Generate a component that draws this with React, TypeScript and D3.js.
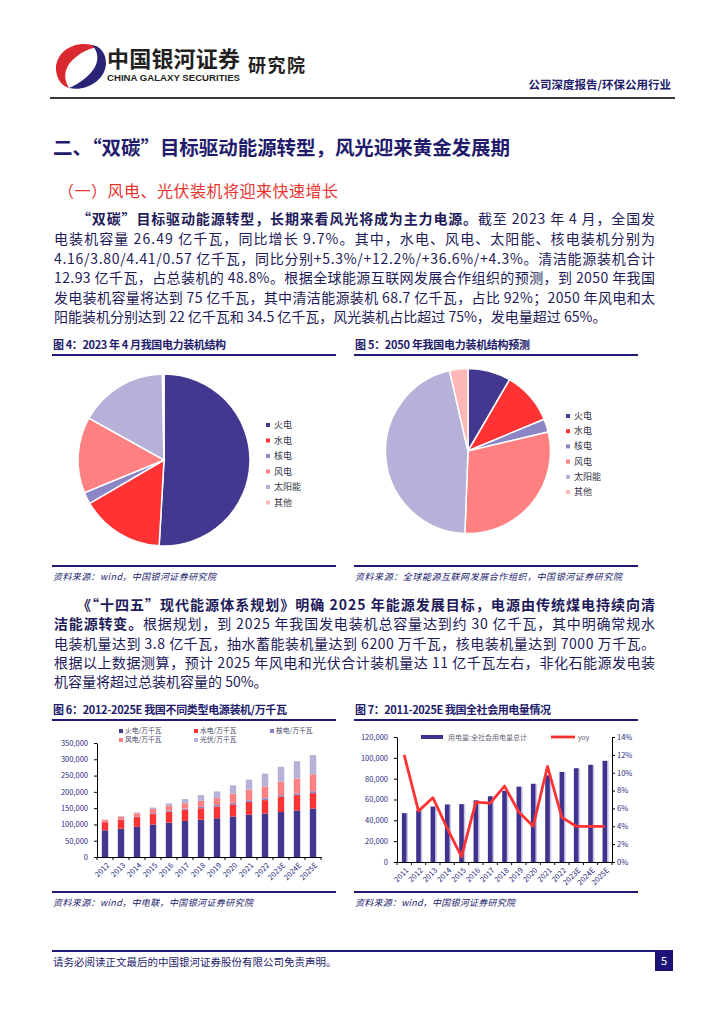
import { useRef, useEffect } from 'react';
import * as d3 from 'd3';

const FONT = "'Noto Sans CJK SC', 'Noto Sans', sans-serif";
const NAVY = '#221b6c';
const TEXT = '#1e1a5a';
const AXIS_TEXT = '#2b2a80';

// Fig 4 / Fig 5 pies
const pieNames = ['火电', '水电', '核电', '风电', '太阳能', '其他'];
const pieColors = ['#43388f', '#ff3333', '#8c86c6', '#ff8080', '#b5b1d8', '#ffb6b6'];
const share2023 = [50.9, 15.7, 2.2, 14.3, 16.6, 0.3];
const share2050 = [8.4, 10.3, 2.6, 29.3, 45.8, 3.6];

// Fig 6 installed capacity, 万千瓦
const capYears = ['2012', '2013', '2014', '2015', '2016', '2017', '2018', '2019', '2020', '2021', '2022', '2023E', '2024E', '2025E'];
const capThermal = [82000, 86800, 92400, 99800, 105400, 110600, 114400, 119000, 124500, 129700, 133200, 138000, 143000, 149000];
const capHydro = [24900, 28000, 30200, 32000, 33200, 34400, 35300, 35800, 37000, 39100, 41400, 48000, 47000, 47000];
const capNuclear = [1260, 1470, 2000, 2700, 3400, 3600, 4500, 4900, 5000, 5300, 5600, 4000, 5000, 6000];
const capWind = [6100, 7700, 9600, 13100, 14800, 16400, 18400, 21000, 28200, 32800, 36500, 41000, 46000, 52000];
const capSolar = [340, 1600, 2500, 4200, 7700, 13000, 17500, 20500, 25300, 30700, 39300, 46000, 53000, 59000];
const capNames = ['火电/万千瓦', '水电/万千瓦', '核电/万千瓦', '风电/万千瓦', '光伏/万千瓦'];
const capColors = ['#43388f', '#ff3333', '#8c86c6', '#ff8080', '#b5b1d8'];
const capTicks = [0, 50000, 100000, 150000, 200000, 250000, 300000, 350000];

// Fig 7 electricity consumption
const useYears = ['2011', '2012', '2013', '2014', '2015', '2016', '2017', '2018', '2019', '2020', '2021', '2022', '2023E', '2024E', '2025E'];
const useTotal = [46900, 49600, 53200, 55200, 55500, 59200, 63100, 68400, 72300, 75100, 83100, 86400, 90000, 93300, 97100];
const useYoy = [12.0, 5.7, 7.2, 3.8, 0.6, 6.7, 6.6, 8.5, 5.6, 4.0, 10.7, 5.0, 4.0, 4.0, 4.0];
const useTicks = [0, 20000, 40000, 60000, 80000, 100000, 120000];
const yoyTicks = [0, 2, 4, 6, 8, 10, 12, 14];

type Sel = d3.Selection<any, unknown, null, undefined>;
type Part = [string, boolean?];

function textLine(g: Sel, x: number, y: number, parts: Part[], opt: { size: number; fill?: string; width?: number; anchor?: string; italic?: boolean; family?: string }) {
  const t = g.append('text')
    .attr('x', x)
    .attr('y', y)
    .attr('font-size', opt.size)
    .attr('font-family', opt.family ?? FONT)
    .attr('fill', opt.fill ?? TEXT)
    .attr('text-anchor', opt.anchor ?? 'start');
  if (opt.italic) t.attr('font-style', 'italic');
  parts.forEach(([s, b]) => {
    t.append('tspan').attr('font-weight', b ? 700 : 400).text(s);
  });
  if (opt.width) t.attr('textLength', opt.width).attr('lengthAdjust', 'spacing');
  return t;
}

function drawHeader(svg: Sel) {
  const g = svg.append('g');
  // logo
  g.append('path')
    .attr('d', 'M98,47 C78,38 55,50 56,70 C57,80 62,86 69,88 C62,77 65,65 76,57 C83,51 91,48 98,47 Z')
    .attr('fill', '#d9282f');
  g.append('path')
    .attr('d', 'M69,88 C86,92 106,80 106,63 C106,53 100,46 92,45 C99,52 99,62 93,70 C87,78 78,84 69,88 Z')
    .attr('fill', '#2b2578');
  textLine(g, 107, 67, [['中国银河证券', true]], { size: 22, fill: '#231f20', width: 133 });
  g.append('text')
    .attr('x', 107).attr('y', 81)
    .attr('font-size', 9.5).attr('font-weight', 700)
    .attr('font-family', "'Liberation Sans', Arial, sans-serif")
    .attr('fill', '#231f20')
    .attr('textLength', 133).attr('lengthAdjust', 'spacingAndGlyphs')
    .text('CHINA GALAXY SECURITIES');
  textLine(g, 248, 72, [['研究院', true]], { size: 18, fill: '#231f20', width: 57 });
  textLine(g, 671, 89, [['公司深度报告/环保公用行业', true]], { size: 11.5, fill: NAVY, anchor: 'end' });
  g.append('line').attr('x1', 50).attr('x2', 675).attr('y1', 98).attr('y2', 98)
    .attr('stroke', '#3a3a3a').attr('stroke-width', 2);
}

function drawBody(svg: Sel) {
  const g = svg.append('g');
  textLine(g, 53, 155, [['二、“双碳”目标驱动能源转型，风光迎来黄金发展期', true]], { size: 19.5, fill: NAVY, width: 457 });
  textLine(g, 58, 197, [['（一）风电、光伏装机将迎来快速增长']], { size: 16, fill: '#e8342f', width: 280 });

  const p1: Part[][] = [
    [['“双碳”目标驱动能源转型，长期来看风光将成为主力电源。', true], ['截至 2023 年 4 月，全国发']],
    [['电装机容量 26.49 亿千瓦，同比增长 9.7%。其中，水电、风电、太阳能、核电装机分别为']],
    [['4.16/3.80/4.41/0.57 亿千瓦，同比分别+5.3%/+12.2%/+36.6%/+4.3%。清洁能源装机合计']],
    [['12.93 亿千瓦，占总装机的 48.8%。根据全球能源互联网发展合作组织的预测，到 2050 年我国']],
    [['发电装机容量将达到 75 亿千瓦，其中清洁能源装机 68.7 亿千瓦，占比 92%；2050 年风电和太']],
    [['阳能装机分别达到 22 亿千瓦和 34.5 亿千瓦，风光装机占比超过 75%，发电量超过 65%。']],
  ];
  const p1y = [224, 244, 264, 283, 303, 322];
  p1.forEach((parts, i) => {
    const x = i === 0 ? 77 : 54;
    const last = i === p1.length - 1;
    textLine(g, x, p1y[i], parts, { size: 14, width: last ? undefined : 655 - x });
  });

  const p2: Part[][] = [
    [['《“十四五”现代能源体系规划》明确 2025 年能源发展目标，电源由传统煤电持续向清', true]],
    [['洁能源转变。', true], ['根据规划，到 2025 年我国发电装机总容量达到约 30 亿千瓦，其中明确常规水']],
    [['电装机量达到 3.8 亿千瓦，抽水蓄能装机量达到 6200 万千瓦，核电装机量达到 7000 万千瓦。']],
    [['根据以上数据测算，预计 2025 年风电和光伏合计装机量达 11 亿千瓦左右，非化石能源发电装']],
    [['机容量将超过总装机容量的 50%。']],
  ];
  const p2y = [610, 629, 649, 668, 687];
  p2.forEach((parts, i) => {
    const x = i === 0 ? 77 : 54;
    const last = i === p2.length - 1;
    textLine(g, x, p2y[i], parts, { size: 14, width: last ? undefined : 655 - x });
  });
}

function figureFrame(svg: Sel, x0: number, x1: number, top: number, bottom: number, title: string, titleW: number, source: string, sourceW: number) {
  const g = svg.append('g');
  textLine(g, x0 + 1, top - 6, [[title, true]], { size: 11, fill: NAVY, width: titleW });
  g.append('line').attr('x1', x0).attr('x2', x1).attr('y1', top).attr('y2', top)
    .attr('stroke', '#1f1a78').attr('stroke-width', 2);
  g.append('line').attr('x1', x0).attr('x2', x1).attr('y1', bottom).attr('y2', bottom)
    .attr('stroke', '#1f1a78').attr('stroke-width', 2);
  textLine(g, x0 + 1, bottom + 14, [[source]], { size: 9, fill: NAVY, italic: true, width: sourceW });
}

function drawPie(svg: Sel, values: number[], cx: number, cy: number, r: number, lx: number, ly: number, gap: number) {
  const g = svg.append('g').attr('transform', `translate(${cx},${cy})`);
  const pie = d3.pie<number>().sort(null).value((d) => d);
  const arc = d3.arc<d3.PieArcDatum<number>>().innerRadius(0).outerRadius(r);
  g.selectAll('path')
    .data(pie(values))
    .join('path')
    .attr('d', arc)
    .attr('fill', (_d, i) => pieColors[i])
    .attr('stroke', '#fff')
    .attr('stroke-width', 1.5);

  const lg = svg.append('g');
  pieNames.forEach((name, i) => {
    const y = ly + i * gap;
    lg.append('rect').attr('x', lx - 2).attr('y', y - 2).attr('width', 4).attr('height', 4).attr('fill', pieColors[i]);
    textLine(lg, lx + 6, y + 3, [[name]], { size: 9, fill: '#333344' });
  });
}

function drawCapacity(svg: Sel) {
  const left = 97, right = 321, bottom = 857, top = 743;
  const g = svg.append('g');
  const x = d3.scaleBand<string>().domain(capYears).range([left, right]).paddingInner(0.6).paddingOuter(0.3);
  const y = d3.scaleLinear().domain([0, 350000]).range([bottom, top]);

  const keys = ['thermal', 'hydro', 'nuclear', 'wind', 'solar'];
  const rows = capYears.map((yr, i) => ({
    year: yr,
    thermal: capThermal[i],
    hydro: capHydro[i],
    nuclear: capNuclear[i],
    wind: capWind[i],
    solar: capSolar[i],
  }));
  const series = d3.stack<any>().keys(keys)(rows);

  g.selectAll('g.layer')
    .data(series)
    .join('g')
    .attr('class', 'layer')
    .attr('fill', (_d, i) => capColors[i])
    .selectAll('rect')
    .data((d) => d)
    .join('rect')
    .attr('x', (d: any) => x(d.data.year)!)
    .attr('y', (d: any) => y(d[1]))
    .attr('width', x.bandwidth())
    .attr('height', (d: any) => y(d[0]) - y(d[1]));

  // y axis
  g.append('g')
    .attr('transform', `translate(${left},0)`)
    .call(d3.axisLeft(y).tickValues(capTicks).tickFormat(d3.format(',') as any).tickSize(3).tickSizeOuter(0).tickPadding(6))
    .call((s) => s.select('.domain').attr('stroke', '#000'))
    .call((s) => s.selectAll('.tick line').attr('stroke', '#000'))
    .call((s) => s.selectAll('.tick text').attr('fill', AXIS_TEXT).attr('font-size', 7.5).attr('font-family', FONT));

  // x axis
  const xa = g.append('g')
    .attr('transform', `translate(0,${bottom})`)
    .call(d3.axisBottom(x).tickSize(0).tickSizeOuter(0))
    .call((s) => s.select('.domain').attr('stroke', '#000'));
  xa.selectAll('.tick text')
    .attr('fill', AXIS_TEXT).attr('font-size', 7.5).attr('font-family', FONT)
    .attr('x', 0).attr('y', 0).attr('dy', '0.35em')
    .attr('transform', 'translate(3,7) rotate(-45)')
    .style('text-anchor', 'end');
  const step = x.step();
  g.selectAll('line.xt')
    .data(d3.range(capYears.length + 1))
    .join('line')
    .attr('class', 'xt')
    .attr('x1', (i) => left + i * step).attr('x2', (i) => left + i * step)
    .attr('y1', bottom).attr('y2', bottom + 3)
    .attr('stroke', '#000');

  // legend
  const lx = [121, 196, 272];
  capNames.forEach((name, i) => {
    const lxi = lx[i % 3];
    const ly = i < 3 ? 731 : 740;
    g.append('rect').attr('x', lxi - 2).attr('y', ly - 2).attr('width', 4).attr('height', 4).attr('fill', capColors[i]);
    textLine(g, lxi + 4, ly + 2.4, [[name]], { size: 6.8, fill: '#444466' });
  });
}

function drawUsage(svg: Sel) {
  const left = 397, right = 612, bottom = 862, top = 737;
  const g = svg.append('g');
  const x = d3.scaleBand<string>().domain(useYears).range([left, right]).paddingInner(0.68).paddingOuter(0.34);
  const yL = d3.scaleLinear().domain([0, 120000]).range([bottom, top]);
  const yR = d3.scaleLinear().domain([0, 14]).range([bottom, top]);

  g.selectAll('rect.shadow')
    .data(useTotal)
    .join('rect')
    .attr('class', 'shadow')
    .attr('x', (_d, i) => x(useYears[i])! + 1.6)
    .attr('y', (d) => yL(d))
    .attr('width', x.bandwidth())
    .attr('height', (d) => bottom - yL(d))
    .attr('fill', '#cbc7e6');
  g.selectAll('rect.bar')
    .data(useTotal)
    .join('rect')
    .attr('class', 'bar')
    .attr('x', (_d, i) => x(useYears[i])!)
    .attr('y', (d) => yL(d))
    .attr('width', x.bandwidth())
    .attr('height', (d) => bottom - yL(d))
    .attr('fill', '#3f3390');

  const line = d3.line<number>()
    .x((_d, i) => x(useYears[i])! + x.bandwidth() / 2)
    .y((d) => yR(d));
  g.append('path')
    .datum(useYoy)
    .attr('d', line)
    .attr('fill', 'none')
    .attr('stroke', '#ff3333')
    .attr('stroke-width', 2.8)
    .attr('stroke-linejoin', 'round');

  const styleAxis = (s: any) => {
    s.select('.domain').attr('stroke', '#000');
    s.selectAll('.tick line').attr('stroke', '#000');
    s.selectAll('.tick text').attr('fill', AXIS_TEXT).attr('font-size', 7.5).attr('font-family', FONT);
  };
  g.append('g')
    .attr('transform', `translate(${left},0)`)
    .call(d3.axisLeft(yL).tickValues(useTicks).tickFormat(d3.format(',') as any).tickSize(3).tickSizeOuter(0).tickPadding(6))
    .call(styleAxis);
  g.append('g')
    .attr('transform', `translate(${right},0)`)
    .call(d3.axisRight(yR).tickValues(yoyTicks).tickFormat((d) => `${d}%`).tickSize(3).tickSizeOuter(0).tickPadding(2))
    .call(styleAxis);

  const xa = g.append('g')
    .attr('transform', `translate(0,${bottom})`)
    .call(d3.axisBottom(x).tickSize(0).tickSizeOuter(0))
    .call((s) => s.select('.domain').attr('stroke', '#000'));
  xa.selectAll('.tick text')
    .attr('fill', AXIS_TEXT).attr('font-size', 7.5).attr('font-family', FONT)
    .attr('x', 0).attr('y', 0).attr('dy', '0.35em')
    .attr('transform', 'translate(3,7) rotate(-45)')
    .style('text-anchor', 'end');
  const step = x.step();
  g.selectAll('line.xt')
    .data(d3.range(useYears.length + 1))
    .join('line')
    .attr('class', 'xt')
    .attr('x1', (i) => left + i * step).attr('x2', (i) => left + i * step)
    .attr('y1', bottom).attr('y2', bottom + 3)
    .attr('stroke', '#000');

  // legend
  g.append('rect').attr('x', 421).attr('y', 735).attr('width', 22).attr('height', 4).attr('fill', '#3f3390');
  textLine(g, 448, 739.5, [['用电量:全社会用电量总计']], { size: 7, fill: '#666677' });
  g.append('line').attr('x1', 551).attr('x2', 575).attr('y1', 737).attr('y2', 737)
    .attr('stroke', '#ff3333').attr('stroke-width', 2.8);
  textLine(g, 578, 739.5, [['yoy']], { size: 7, fill: '#666677' });
}

function drawFooter(svg: Sel) {
  const g = svg.append('g');
  g.append('line').attr('x1', 52).attr('x2', 673).attr('y1', 951).attr('y2', 951)
    .attr('stroke', '#1f1a78').attr('stroke-width', 2);
  textLine(g, 53, 966, [['请务必阅读正文最后的中国银河证券股份有限公司免责声明。']], { size: 10.5, fill: NAVY });
  g.append('rect').attr('x', 655).attr('y', 951).attr('width', 18).attr('height', 20).attr('fill', '#1c1278');
  textLine(g, 664, 965, [['5']], { size: 11, fill: '#fff', anchor: 'middle' });
}

export default function App() {
  const svgRef = useRef<SVGSVGElement>(null);

  useEffect(() => {
    const svg = d3.select(svgRef.current) as Sel;
    svg.selectAll('*').remove();
    svg.append('rect').attr('width', 724).attr('height', 1024).attr('fill', '#fff');

    drawHeader(svg);
    drawBody(svg);

    figureFrame(svg, 52, 336, 355, 566, '图 4：2023 年 4 月我国电力装机结构', 173, '资料来源：wind，中国银河证券研究院', 163);
    figureFrame(svg, 354, 638, 355, 566, '图 5：2050 年我国电力装机结构预测', 175, '资料来源：全球能源互联网发展合作组织，中国银河证券研究院', 267);
    drawPie(svg, share2023, 164, 460, 86, 268, 425, 15.5);
    drawPie(svg, share2050, 468, 451, 82.5, 568, 416, 15.2);

    figureFrame(svg, 52, 336, 720, 892, '图 6：2012-2025E 我国不同类型电源装机/万千瓦', 234, '资料来源：wind，中电联，中国银河证券研究院', 200);
    figureFrame(svg, 354, 638, 720, 892, '图 7：2011-2025E 我国全社会用电量情况', 196, '资料来源：wind，中国银河证券研究院', 160);
    drawCapacity(svg);
    drawUsage(svg);

    drawFooter(svg);
  }, []);

  return (
    <svg
      ref={svgRef}
      width={724}
      height={1024}
      viewBox="0 0 724 1024"
      style={{ position: 'absolute', left: 0, top: 0, display: 'block' }}
    />
  );
}
